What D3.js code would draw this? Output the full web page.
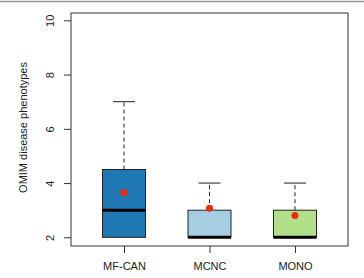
<!DOCTYPE html>
<html>
<head>
<meta charset="utf-8">
<script src="https://cdn.jsdelivr.net/npm/d3@7"></script>
<style>
  body { margin: 0; background: white; }
  text { font-family: "Liberation Sans", Arial, sans-serif; fill: #111; }
</style>
</head>
<body>
<div id="chart"></div>
<script>
var groups = ['MF-CAN', 'MCNC', 'MONO'];
var q1 = [2, 2, 2];
var medians = [3, 2, 2];
var q3 = [4.5, 3, 3];
var whiskerLow = [2, 2, 2];
var whiskerHigh = [7, 4, 4];
var means = [3.65, 3.07, 2.8];
var colors = ['#1f78b4', '#a6cee3', '#b2df8a'];
var yTicks = [2, 4, 6, 8, 10];

var width = 364, height = 278;
var margin = { top: 13, right: 16, bottom: 32, left: 71 };
var w = width - margin.left - margin.right,
    h = height - margin.top - margin.bottom;

var svg = d3.select('#chart').append('svg')
    .attr('width', width)
    .attr('height', height);

// thin frame line at the top of the image
svg.append('line')
    .attr('x1', 0).attr('x2', width)
    .attr('y1', 1.5).attr('y2', 1.5)
    .style('stroke', '#999')
    .style('stroke-width', 1.5);

var chart = svg.append('g')
    .attr('transform', 'translate(' + margin.left + ',' + margin.top + ')');

var xScale = d3.scaleLinear()
    .domain([0.38, 3.62])
    .range([0, w]);

var yScale = d3.scaleLinear()
    .domain([1.68, 10.27])
    .range([h, 0]);

var boxHalf = 21.5, capHalf = 11;

// y axis (R style: rotated labels)
var yAxis = chart.append('g')
    .call(d3.axisLeft(yScale).tickValues(yTicks).tickSize(7).tickFormat(d3.format('d')));
yAxis.select('.domain').remove();
yAxis.selectAll('line').style('stroke', '#333');
yAxis.selectAll('text')
    .attr('x', 0).attr('y', 0).attr('dy', 0)
    .attr('transform', 'translate(-17,0) rotate(-90)')
    .attr('text-anchor', 'middle')
    .style('font-size', '11px')
    .style('fill', '#222');

// x axis ticks
var xAxis = chart.append('g')
    .attr('transform', 'translate(0,' + h + ')')
    .call(d3.axisBottom(xScale).tickValues([1, 2, 3]).tickSize(7).tickPadding(9)
      .tickFormat(function(d) { return groups[d - 1]; }));
xAxis.select('.domain').remove();
xAxis.selectAll('line').style('stroke', '#333');
xAxis.selectAll('text')
    .style('font-size', '11px')
    .style('fill', '#222');

chart.append('text')
    .attr('text-anchor', 'middle')
    .attr('transform', 'translate(' + (-44) + ',' + (h / 2 - 2) + ') rotate(-90)')
    .style('font-size', '11px')
    .style('fill', '#222')
    .text('OMIM disease phenotypes');

var data = groups.map(function(g, i) {
  return { name: g, i: i + 1, q1: q1[i], med: medians[i], q3: q3[i],
           lo: whiskerLow[i], hi: whiskerHigh[i], mean: means[i], color: colors[i] };
});

var box = chart.selectAll('.box')
    .data(data)
    .enter().append('g')
    .attr('class', 'box');

// whiskers
box.append('line')
    .attr('x1', function(d) { return xScale(d.i); })
    .attr('x2', function(d) { return xScale(d.i); })
    .attr('y1', function(d) { return yScale(d.q3); })
    .attr('y2', function(d) { return yScale(d.hi); })
    .style('stroke', '#222')
    .style('stroke-width', 1)
    .style('stroke-dasharray', '4,3');

box.append('line')
    .attr('x1', function(d) { return xScale(d.i) - capHalf; })
    .attr('x2', function(d) { return xScale(d.i) + capHalf; })
    .attr('y1', function(d) { return yScale(d.hi); })
    .attr('y2', function(d) { return yScale(d.hi); })
    .style('stroke', '#222')
    .style('stroke-width', 1);

box.append('rect')
    .attr('x', function(d) { return xScale(d.i) - boxHalf; })
    .attr('width', boxHalf * 2)
    .attr('y', function(d) { return yScale(d.q3); })
    .attr('height', function(d) { return yScale(d.q1) - yScale(d.q3); })
    .style('fill', function(d) { return d.color; })
    .style('stroke', '#222')
    .style('stroke-width', 1);

box.append('line')
    .attr('x1', function(d) { return xScale(d.i) - boxHalf; })
    .attr('x2', function(d) { return xScale(d.i) + boxHalf; })
    .attr('y1', function(d) { return yScale(d.med); })
    .attr('y2', function(d) { return yScale(d.med); })
    .style('stroke', '#000')
    .style('stroke-width', 3);

box.append('circle')
    .attr('cx', function(d) { return xScale(d.i); })
    .attr('cy', function(d) { return yScale(d.mean); })
    .attr('r', 3.5)
    .style('fill', '#f2280c');

// plot frame
chart.append('rect')
    .attr('width', w).attr('height', h)
    .style('fill', 'none')
    .style('stroke', '#333')
    .style('stroke-width', 1);
</script>
</body>
</html>
